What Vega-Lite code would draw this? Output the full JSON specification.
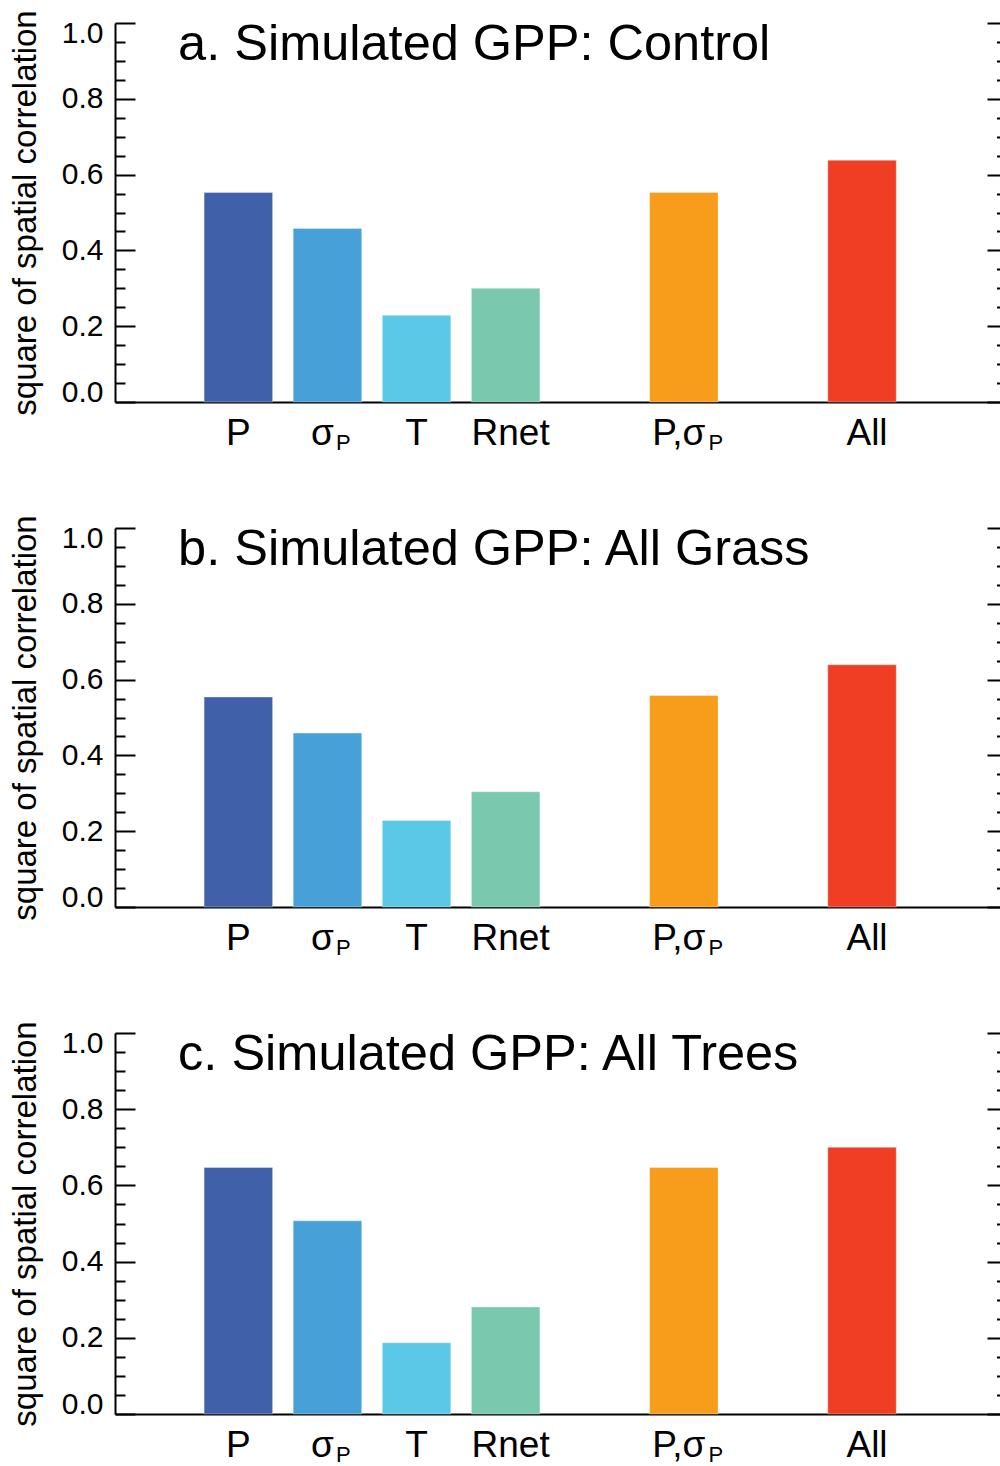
{
  "$schema": "https://vega.github.io/schema/vega-lite/v6.json",
  "background": "white",
  "padding": {"left": 9, "top": 9, "right": 0, "bottom": 0},
  "config": {"font": "Liberation Sans", "view": {"stroke": null}},
  "datasets": {
    "bars": [
      {"panel": "a", "var": "P", "value": 0.553},
      {"panel": "a", "var": "σP", "value": 0.458},
      {"panel": "a", "var": "T", "value": 0.229},
      {"panel": "a", "var": "Rnet", "value": 0.300},
      {"panel": "a", "var": "P,σP", "value": 0.553},
      {"panel": "a", "var": "All", "value": 0.638},
      {"panel": "b", "var": "P", "value": 0.554},
      {"panel": "b", "var": "σP", "value": 0.459},
      {"panel": "b", "var": "T", "value": 0.228},
      {"panel": "b", "var": "Rnet", "value": 0.304},
      {"panel": "b", "var": "P,σP", "value": 0.558},
      {"panel": "b", "var": "All", "value": 0.639},
      {"panel": "c", "var": "P", "value": 0.647},
      {"panel": "c", "var": "σP", "value": 0.507},
      {"panel": "c", "var": "T", "value": 0.187},
      {"panel": "c", "var": "Rnet", "value": 0.281},
      {"panel": "c", "var": "P,σP", "value": 0.647},
      {"panel": "c", "var": "All", "value": 0.700}
    ]
  },
  "spacing": 126,
  "bounds": "flush",
  "vconcat": [
    {
      "width": 885, "height": 379,
      "data": {"name": "bars"},
      "transform": [{"filter": "datum.panel == 'a'"}],
      "resolve": {"axis": {"y": "independent"}},
      "layer": [
        {
          "mark": {"type": "bar", "stroke": "white", "strokeOpacity": 0.35, "strokeWidth": 1},
          "encoding": {
            "x": {"field": "var", "type": "nominal", "sort": null,
              "scale": {"domain": ["g0", "P", "σP", "T", "Rnet", "g5", "P,σP", "g7", "All"], "paddingInner": 0.231, "paddingOuter": 0.582, "align": 0},
              "axis": {"orient": "bottom", "title": null, "values": ["P", "σP", "T", "Rnet", "P,σP", "All"], "ticks": false, "domain": true, "domainColor": "black", "domainWidth": 2, "labels": true, "labelFontSize": 37, "labelColor": "black", "labelBaseline": "alphabetic", "labelPadding": 42, "labelAngle": 0,
                "labelExpr": "datum.value == 'σP' ? 'σ' : datum.value == 'P,σP' ? 'P,σ' : datum.value",
                "labelOffset": {"condition": [{"test": "datum.value == 'σP' || datum.value == 'P,σP'", "value": -5}, {"test": "datum.value == 'Rnet' || datum.value == 'All'", "value": 5}], "value": 0}}},
            "y": {"field": "value", "type": "quantitative", "scale": {"domain": [0, 1]},
              "axis": {"orient": "left", "grid": false, "values": [0, 0.05, 0.1, 0.15, 0.2, 0.25, 0.3, 0.35, 0.4, 0.45, 0.5, 0.55, 0.6, 0.65, 0.7, 0.75, 0.8, 0.85, 0.9, 0.95, 1],
                "labelExpr": "abs(datum.value*5 - round(datum.value*5)) < 0.001 ? format(datum.value, '.1f') : ''",
                "tickSize": {"condition": {"test": "abs(datum.value*5 - round(datum.value*5)) < 0.001", "value": -20}, "value": -10},
                "tickWidth": 2, "tickColor": "black", "domainColor": "black", "domainWidth": 2,
                "labelFontSize": 30, "labelColor": "black", "labelPadding": 32, "labelFlush": true, "labelFlushOffset": 5,
                "title": "square of spatial correlation", "titleFontSize": 33, "titleFontWeight": "normal", "titleColor": "black", "titlePadding": 19}},
            "color": {"field": "var", "type": "nominal", "legend": null,
              "scale": {"domain": ["P", "σP", "T", "Rnet", "P,σP", "All"], "range": ["#4060AA", "#48A0D8", "#5CC8E7", "#7AC8AE", "#F89C1C", "#F03E24"]}}
          }
        },
        {
          "transform": [{"filter": "datum.var == 'σP'"}],
          "mark": {"type": "text", "text": "P", "fontSize": 22, "baseline": "alphabetic", "align": "center", "dx": 16, "dy": 48, "color": "black"},
          "encoding": {
            "x": {"field": "var", "type": "nominal"},
            "y": {"datum": 0, "type": "quantitative", "scale": {"domain": [0, 1]}, "axis": null}
          }
        },
        {
          "transform": [{"filter": "datum.var == 'P,σP'"}],
          "mark": {"type": "text", "text": "P", "fontSize": 22, "baseline": "alphabetic", "align": "center", "dx": 32, "dy": 48, "color": "black"},
          "encoding": {
            "x": {"field": "var", "type": "nominal"},
            "y": {"datum": 0, "type": "quantitative", "scale": {"domain": [0, 1]}, "axis": null}
          }
        },
        {
          "transform": [{"filter": "datum.var == 'P'"}],
          "mark": {"type": "text", "text": "a. Simulated GPP: Control", "fontSize": 50.5, "align": "left", "baseline": "alphabetic", "dx": -26, "dy": 37, "color": "black"},
          "encoding": {
            "x": {"field": "var", "type": "nominal", "bandPosition": 0},
            "y": {"datum": 1, "type": "quantitative", "scale": {"domain": [0, 1]},
              "axis": {"orient": "right", "grid": false, "labels": false, "title": null, "domain": false,
                "values": [0, 0.05, 0.1, 0.15, 0.2, 0.25, 0.3, 0.35, 0.4, 0.45, 0.5, 0.55, 0.6, 0.65, 0.7, 0.75, 0.8, 0.85, 0.9, 0.95, 1],
                "tickSize": {"condition": {"test": "abs(datum.value*5 - round(datum.value*5)) < 0.001", "value": -13}, "value": -3.5},
                "tickWidth": 2, "tickColor": "black"}}
          }
        }
      ]
    },
    {
      "width": 885, "height": 379,
      "data": {"name": "bars"},
      "transform": [{"filter": "datum.panel == 'b'"}],
      "resolve": {"axis": {"y": "independent"}},
      "layer": [
        {
          "mark": {"type": "bar", "stroke": "white", "strokeOpacity": 0.35, "strokeWidth": 1},
          "encoding": {
            "x": {"field": "var", "type": "nominal", "sort": null,
              "scale": {"domain": ["g0", "P", "σP", "T", "Rnet", "g5", "P,σP", "g7", "All"], "paddingInner": 0.231, "paddingOuter": 0.582, "align": 0},
              "axis": {"orient": "bottom", "title": null, "values": ["P", "σP", "T", "Rnet", "P,σP", "All"], "ticks": false, "domain": true, "domainColor": "black", "domainWidth": 2, "labels": true, "labelFontSize": 37, "labelColor": "black", "labelBaseline": "alphabetic", "labelPadding": 42, "labelAngle": 0,
                "labelExpr": "datum.value == 'σP' ? 'σ' : datum.value == 'P,σP' ? 'P,σ' : datum.value",
                "labelOffset": {"condition": [{"test": "datum.value == 'σP' || datum.value == 'P,σP'", "value": -5}, {"test": "datum.value == 'Rnet' || datum.value == 'All'", "value": 5}], "value": 0}}},
            "y": {"field": "value", "type": "quantitative", "scale": {"domain": [0, 1]},
              "axis": {"orient": "left", "grid": false, "values": [0, 0.05, 0.1, 0.15, 0.2, 0.25, 0.3, 0.35, 0.4, 0.45, 0.5, 0.55, 0.6, 0.65, 0.7, 0.75, 0.8, 0.85, 0.9, 0.95, 1],
                "labelExpr": "abs(datum.value*5 - round(datum.value*5)) < 0.001 ? format(datum.value, '.1f') : ''",
                "tickSize": {"condition": {"test": "abs(datum.value*5 - round(datum.value*5)) < 0.001", "value": -20}, "value": -10},
                "tickWidth": 2, "tickColor": "black", "domainColor": "black", "domainWidth": 2,
                "labelFontSize": 30, "labelColor": "black", "labelPadding": 32, "labelFlush": true, "labelFlushOffset": 5,
                "title": "square of spatial correlation", "titleFontSize": 33, "titleFontWeight": "normal", "titleColor": "black", "titlePadding": 19}},
            "color": {"field": "var", "type": "nominal", "legend": null,
              "scale": {"domain": ["P", "σP", "T", "Rnet", "P,σP", "All"], "range": ["#4060AA", "#48A0D8", "#5CC8E7", "#7AC8AE", "#F89C1C", "#F03E24"]}}
          }
        },
        {
          "transform": [{"filter": "datum.var == 'σP'"}],
          "mark": {"type": "text", "text": "P", "fontSize": 22, "baseline": "alphabetic", "align": "center", "dx": 16, "dy": 48, "color": "black"},
          "encoding": {
            "x": {"field": "var", "type": "nominal"},
            "y": {"datum": 0, "type": "quantitative", "scale": {"domain": [0, 1]}, "axis": null}
          }
        },
        {
          "transform": [{"filter": "datum.var == 'P,σP'"}],
          "mark": {"type": "text", "text": "P", "fontSize": 22, "baseline": "alphabetic", "align": "center", "dx": 32, "dy": 48, "color": "black"},
          "encoding": {
            "x": {"field": "var", "type": "nominal"},
            "y": {"datum": 0, "type": "quantitative", "scale": {"domain": [0, 1]}, "axis": null}
          }
        },
        {
          "transform": [{"filter": "datum.var == 'P'"}],
          "mark": {"type": "text", "text": "b. Simulated GPP: All Grass", "fontSize": 50.5, "align": "left", "baseline": "alphabetic", "dx": -26, "dy": 37, "color": "black"},
          "encoding": {
            "x": {"field": "var", "type": "nominal", "bandPosition": 0},
            "y": {"datum": 1, "type": "quantitative", "scale": {"domain": [0, 1]},
              "axis": {"orient": "right", "grid": false, "labels": false, "title": null, "domain": false,
                "values": [0, 0.05, 0.1, 0.15, 0.2, 0.25, 0.3, 0.35, 0.4, 0.45, 0.5, 0.55, 0.6, 0.65, 0.7, 0.75, 0.8, 0.85, 0.9, 0.95, 1],
                "tickSize": {"condition": {"test": "abs(datum.value*5 - round(datum.value*5)) < 0.001", "value": -13}, "value": -3.5},
                "tickWidth": 2, "tickColor": "black"}}
          }
        }
      ]
    },
    {
      "width": 885, "height": 381,
      "data": {"name": "bars"},
      "transform": [{"filter": "datum.panel == 'c'"}],
      "resolve": {"axis": {"y": "independent"}},
      "layer": [
        {
          "mark": {"type": "bar", "stroke": "white", "strokeOpacity": 0.35, "strokeWidth": 1},
          "encoding": {
            "x": {"field": "var", "type": "nominal", "sort": null,
              "scale": {"domain": ["g0", "P", "σP", "T", "Rnet", "g5", "P,σP", "g7", "All"], "paddingInner": 0.231, "paddingOuter": 0.582, "align": 0},
              "axis": {"orient": "bottom", "title": null, "values": ["P", "σP", "T", "Rnet", "P,σP", "All"], "ticks": false, "domain": true, "domainColor": "black", "domainWidth": 2, "labels": true, "labelFontSize": 37, "labelColor": "black", "labelBaseline": "alphabetic", "labelPadding": 42, "labelAngle": 0,
                "labelExpr": "datum.value == 'σP' ? 'σ' : datum.value == 'P,σP' ? 'P,σ' : datum.value",
                "labelOffset": {"condition": [{"test": "datum.value == 'σP' || datum.value == 'P,σP'", "value": -5}, {"test": "datum.value == 'Rnet' || datum.value == 'All'", "value": 5}], "value": 0}}},
            "y": {"field": "value", "type": "quantitative", "scale": {"domain": [0, 1]},
              "axis": {"orient": "left", "grid": false, "values": [0, 0.05, 0.1, 0.15, 0.2, 0.25, 0.3, 0.35, 0.4, 0.45, 0.5, 0.55, 0.6, 0.65, 0.7, 0.75, 0.8, 0.85, 0.9, 0.95, 1],
                "labelExpr": "abs(datum.value*5 - round(datum.value*5)) < 0.001 ? format(datum.value, '.1f') : ''",
                "tickSize": {"condition": {"test": "abs(datum.value*5 - round(datum.value*5)) < 0.001", "value": -20}, "value": -10},
                "tickWidth": 2, "tickColor": "black", "domainColor": "black", "domainWidth": 2,
                "labelFontSize": 30, "labelColor": "black", "labelPadding": 32, "labelFlush": true, "labelFlushOffset": 5,
                "title": "square of spatial correlation", "titleFontSize": 33, "titleFontWeight": "normal", "titleColor": "black", "titlePadding": 19}},
            "color": {"field": "var", "type": "nominal", "legend": null,
              "scale": {"domain": ["P", "σP", "T", "Rnet", "P,σP", "All"], "range": ["#4060AA", "#48A0D8", "#5CC8E7", "#7AC8AE", "#F89C1C", "#F03E24"]}}
          }
        },
        {
          "transform": [{"filter": "datum.var == 'σP'"}],
          "mark": {"type": "text", "text": "P", "fontSize": 22, "baseline": "alphabetic", "align": "center", "dx": 16, "dy": 48, "color": "black"},
          "encoding": {
            "x": {"field": "var", "type": "nominal"},
            "y": {"datum": 0, "type": "quantitative", "scale": {"domain": [0, 1]}, "axis": null}
          }
        },
        {
          "transform": [{"filter": "datum.var == 'P,σP'"}],
          "mark": {"type": "text", "text": "P", "fontSize": 22, "baseline": "alphabetic", "align": "center", "dx": 32, "dy": 48, "color": "black"},
          "encoding": {
            "x": {"field": "var", "type": "nominal"},
            "y": {"datum": 0, "type": "quantitative", "scale": {"domain": [0, 1]}, "axis": null}
          }
        },
        {
          "transform": [{"filter": "datum.var == 'P'"}],
          "mark": {"type": "text", "text": "c. Simulated GPP: All Trees", "fontSize": 50.5, "align": "left", "baseline": "alphabetic", "dx": -26, "dy": 37, "color": "black"},
          "encoding": {
            "x": {"field": "var", "type": "nominal", "bandPosition": 0},
            "y": {"datum": 1, "type": "quantitative", "scale": {"domain": [0, 1]},
              "axis": {"orient": "right", "grid": false, "labels": false, "title": null, "domain": false,
                "values": [0, 0.05, 0.1, 0.15, 0.2, 0.25, 0.3, 0.35, 0.4, 0.45, 0.5, 0.55, 0.6, 0.65, 0.7, 0.75, 0.8, 0.85, 0.9, 0.95, 1],
                "tickSize": {"condition": {"test": "abs(datum.value*5 - round(datum.value*5)) < 0.001", "value": -13}, "value": -3.5},
                "tickWidth": 2, "tickColor": "black"}}
          }
        }
      ]
    }
  ]
}
